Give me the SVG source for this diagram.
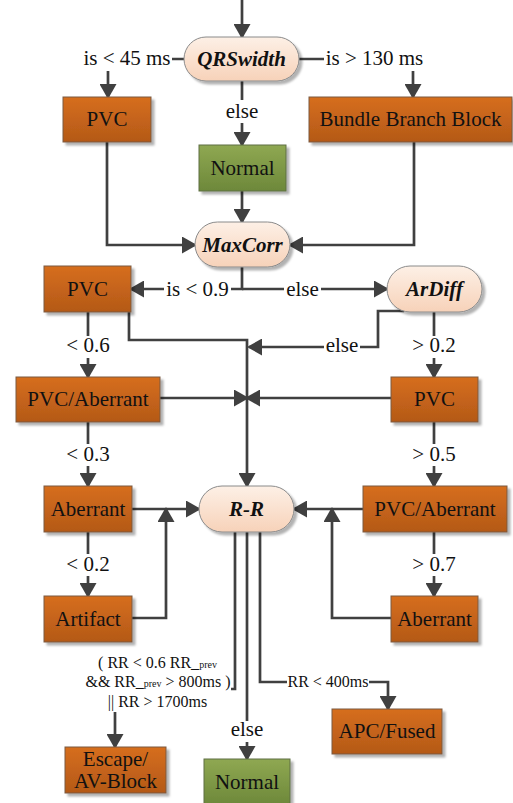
<svg xmlns="http://www.w3.org/2000/svg" width="513" height="803" viewBox="0 0 513 803">
<defs>
<linearGradient id="gO" x1="0" y1="0" x2="0" y2="1"><stop offset="0" stop-color="#D66E1F"/><stop offset="1" stop-color="#B45917"/></linearGradient>
<linearGradient id="gG" x1="0" y1="0" x2="0" y2="1"><stop offset="0" stop-color="#8FA852"/><stop offset="1" stop-color="#6D883A"/></linearGradient>
<linearGradient id="gP" x1="0" y1="0" x2="0" y2="1"><stop offset="0" stop-color="#FDF0E6"/><stop offset="1" stop-color="#F7D2B9"/></linearGradient>
<filter id="sh" x="-10%" y="-10%" width="130%" height="140%"><feDropShadow dx="3" dy="3" stdDeviation="1.3" flood-color="#000" flood-opacity="0.3"/></filter>
<marker id="ah" viewBox="0 0 15 17" refX="13" refY="8.5" markerWidth="15" markerHeight="17" markerUnits="userSpaceOnUse" orient="auto"><path d="M0,0 L15,8.5 L0,17 z" fill="#404040"/></marker>
<style>
.c{fill:none;stroke:#404040;stroke-width:2.7}
.a{marker-end:url(#ah)}
.bo{fill:url(#gO);stroke:#7a5a40;stroke-width:1;filter:url(#sh)}
.bg{fill:url(#gG);stroke:#5f6f45;stroke-width:1;filter:url(#sh)}
.p{fill:url(#gP);stroke:#8a8a8a;stroke-width:1;filter:url(#sh)}
text{font-family:"Liberation Serif","Times New Roman",serif;fill:#111}
.t{font-size:21px;text-anchor:middle}
.pt{font-size:21px;text-anchor:middle;font-weight:bold;font-style:italic}
.l{font-size:21px;text-anchor:middle}
.s{font-size:16px;text-anchor:middle}
.w{fill:#fff;stroke:none}
</style>
</defs>
<g id="connectors">
<path class="c a" d="M242,0 V37"/>
<path class="c a" d="M184,59 H108 V97"/>
<path class="c a" d="M299,59 H413 V97"/>
<path class="c a" d="M242,81 V145"/>
<path class="c a" d="M242,191 V222"/>
<path class="c a" d="M107,142 V245 H195"/>
<path class="c a" d="M414,142 V245 H290"/>
<path class="c a" d="M242,267 V289 H131"/>
<path class="c a" d="M242,289 H387"/>
<path class="c a" d="M404,311 H378 V347 H249"/>
<path class="c a" d="M129,312 V340 H247 V486"/>
<path class="c a" d="M88,312 V377"/>
<path class="c a" d="M160,398 H247"/>
<path class="c a" d="M391,398 H247"/>
<path class="c a" d="M434,312 V377"/>
<path class="c a" d="M88,422 V486"/>
<path class="c a" d="M434,422 V486"/>
<path class="c a" d="M132,509 H199"/>
<path class="c a" d="M363,509 H294"/>
<path class="c a" d="M88,532 V596"/>
<path class="c a" d="M434,532 V596"/>
<path class="c a" d="M132,618 H166 V509"/>
<path class="c a" d="M391,618 H332 V509"/>
<path class="c a" d="M235,532 V689 H115 V747"/>
<path class="c a" d="M247,532 V759"/>
<path class="c a" d="M260,532 V682 H388 V709"/>
</g>
<g id="labels">
<rect class="w" x="82" y="47" width="90" height="24"/><text class="l" x="127" y="65">is &lt; 45 ms</text>
<rect class="w" x="324" y="47" width="101" height="24"/><text class="l" x="374.5" y="65">is &gt; 130 ms</text>
<rect class="w" x="224" y="100" width="36" height="23"/><text class="l" x="242" y="118">else</text>
<rect class="w" x="164" y="279" width="67" height="22"/><text class="l" x="197.5" y="296">is &lt; 0.9</text>
<rect class="w" x="284" y="279" width="37" height="22"/><text class="l" x="302.5" y="296">else</text>
<rect class="w" x="324" y="336" width="36" height="22"/><text class="l" x="342" y="352">else</text>
<rect class="w" x="64" y="336" width="48" height="22"/><text class="l" x="88" y="352">&lt; 0.6</text>
<rect class="w" x="410" y="336" width="48" height="22"/><text class="l" x="434" y="352">&gt; 0.2</text>
<rect class="w" x="64" y="444" width="48" height="22"/><text class="l" x="88" y="461">&lt; 0.3</text>
<rect class="w" x="410" y="444" width="48" height="22"/><text class="l" x="434" y="461">&gt; 0.5</text>
<rect class="w" x="64" y="554" width="48" height="22"/><text class="l" x="88" y="571">&lt; 0.2</text>
<rect class="w" x="410" y="554" width="48" height="22"/><text class="l" x="434" y="571">&gt; 0.7</text>
<rect class="w" x="84" y="652" width="147" height="60"/>
<text class="s" x="157.5" y="668">( RR &lt; 0.6 RR_<tspan font-size="10">prev</tspan></text>
<text class="s" x="158" y="687">&amp;&amp; RR_<tspan font-size="10">prev</tspan> &gt; 800ms )</text>
<text class="s" x="157.5" y="707">|| RR &gt; 1700ms</text>
<rect class="w" x="229" y="721" width="36" height="21"/><text class="l" x="247" y="736">else</text>
<rect class="w" x="287" y="672" width="82" height="18"/><text class="s" x="328" y="687">RR &lt; 400ms</text>
</g>
<g id="n-qrs"><rect class="p" x="184" y="37" width="115" height="44" rx="22"/><text class="pt" x="241.5" y="66">QRSwidth</text></g>
<g id="n-pvc1"><rect class="bo" x="63" y="97" width="88" height="45"/><text class="t" x="107" y="126">PVC</text></g>
<g id="n-bbb"><rect class="bo" x="309" y="97" width="203" height="45"/><text class="t" x="410.5" y="126">Bundle Branch Block</text></g>
<g id="n-normal1"><rect class="bg" x="199" y="145" width="87" height="46"/><text class="t" x="242.5" y="175">Normal</text></g>
<g id="n-maxcorr"><rect class="p" x="195" y="222" width="95" height="45" rx="22.5"/><text class="pt" x="242.5" y="252">MaxCorr</text></g>
<g id="n-pvc2"><rect class="bo" x="44" y="266" width="87" height="46"/><text class="t" x="87.5" y="296">PVC</text></g>
<g id="n-ardiff"><rect class="p" x="387" y="266" width="95" height="46" rx="23"/><text class="pt" x="434.5" y="296">ArDiff</text></g>
<g id="n-pvcab1"><rect class="bo" x="16" y="377" width="144" height="45"/><text class="t" x="88" y="406">PVC/Aberrant</text></g>
<g id="n-pvc3"><rect class="bo" x="391" y="377" width="87" height="45"/><text class="t" x="434.5" y="406">PVC</text></g>
<g id="n-ab1"><rect class="bo" x="44" y="486" width="88" height="46"/><text class="t" x="88" y="516">Aberrant</text></g>
<g id="n-rr"><rect class="p" x="199" y="486" width="95" height="46" rx="23"/><text class="pt" x="246.5" y="516">R-R</text></g>
<g id="n-pvcab2"><rect class="bo" x="363" y="486" width="144" height="46"/><text class="t" x="435" y="516">PVC/Aberrant</text></g>
<g id="n-artifact"><rect class="bo" x="44" y="596" width="88" height="46"/><text class="t" x="88" y="626">Artifact</text></g>
<g id="n-ab2"><rect class="bo" x="391" y="596" width="87" height="46"/><text class="t" x="434.5" y="626">Aberrant</text></g>
<g id="n-apc"><rect class="bo" x="332" y="709" width="110" height="45"/><text class="t" x="387" y="738">APC/Fused</text></g>
<g id="n-escape"><rect class="bo" x="65" y="747" width="101" height="46"/><text class="t" x="115.5" y="766">Escape/</text><text class="t" x="115.5" y="788">AV-Block</text></g>
<g id="n-normal2"><rect class="bg" x="204" y="759" width="86" height="46"/><text class="t" x="247" y="789">Normal</text></g>
</svg>
